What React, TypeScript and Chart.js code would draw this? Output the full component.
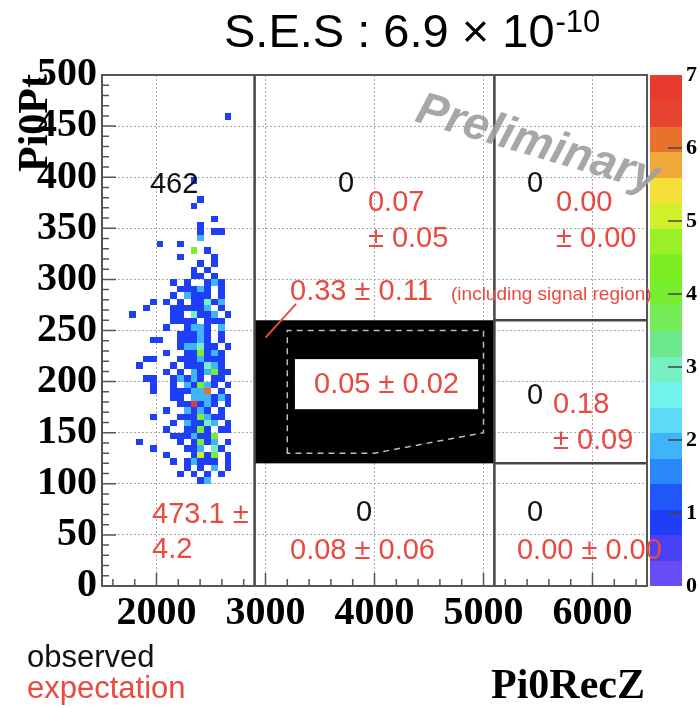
import React, { useEffect, useRef } from 'react';
import { Chart, registerables } from 'chart.js';

Chart.register(...registerables);

// ---------- axes ----------
const Z_MIN = 1500;
const Z_MAX = 6500;
const PT_MIN = 0;
const PT_MAX = 500;
const zTicks = [2000, 3000, 4000, 5000, 6000];
const ptTicks = [0, 50, 100, 150, 200, 250, 300, 350, 400, 450, 500];
const zMinorStep = 200;
const ptMinorStep = 10;

// ---------- histogram cells (observed events) ----------
const zBinWidth = 62.5;
const ptBinWidth = 6.25;
const firstColumnBin = 3; // first character of every row = Z bin 3
// [Pt bin index, counts per Z bin starting at firstColumnBin]
const cellRows: Array<[number, string]> = [
  [73, '...............1..'],
  [63, '..........1.......'],
  [60, '...........1......'],
  [59, '..........1.......'],
  [57, '.............1....'],
  [56, '...........1......'],
  [55, '...........1.11...'],
  [54, '...........2......'],
  [53, '.....1..1.........'],
  [52, '..........4.1.....'],
  [51, '........1....1....'],
  [50, '...........1.1....'],
  [49, '..........1.1.....'],
  [48, '..........11.1....'],
  [47, '.......1.1..121...'],
  [46, '........11121.1...'],
  [45, '.......1.2111.1...'],
  [44, '....1.1.1.11312...'],
  [43, '...1...111112.1...'],
  [42, '.1.....11.3112.1..'],
  [41, '.......1111.111...'],
  [40, '......1..1221.2...'],
  [39, '........11121.1...'],
  [38, '....11..11121.1...'],
  [37, '........122311.1..'],
  [36, '......1..114121...'],
  [35, '...11...1112111...'],
  [34, '..1....1.111321...'],
  [33, '......1.1.212411..'],
  [32, '...11..12121.11...'],
  [31, '....1..1.21421.1..'],
  [30, '....1..111226.1...'],
  [29, '.......11.222121..'],
  [28, '........117121.1..'],
  [27, '......1..2121.1...'],
  [26, '....1...1114211...'],
  [25, '.......1.21132.1..'],
  [24, '......1..1141.11..'],
  [23, '.......1112114....'],
  [22, '..1.....1.1412.1..'],
  [21, '....1....112.31...'],
  [20, '......1...1514.1..'],
  [19, '.......1.12111.1..'],
  [18, '.........1.1.2.1..'],
  [17, '........1.1.1.1...'],
  [16, '...........12.....'],
];

// ---------- regions ----------
const regionZCuts = [2900, 5100];
const regionPtCuts = [120, 260];
const signalZ = [3200, 3200, 5000, 5000, 4000];
const signalPt = [130, 250, 250, 150, 130];

// ---------- colour scale ----------
const colorMax = 7;
const colorLabels = [0, 1, 2, 3, 4, 5, 6, 7];
const palette = [
  '#6a4cf4', '#4a40f6', '#1e3ef8', '#1e58f8', '#2a88f8',
  '#40b4f8', '#5cdaf8', '#70f4ec', '#76f0c0', '#6ee88c',
  '#74ec58', '#78ee30', '#7cee22', '#9af026', '#d2f02a',
  '#f5e03a', '#f0a83a', '#e8722c', '#e64430', '#e63b2e',
];

// ---------- texts ----------
const RED = '#e84a40';
const BLACK = '#111111';
const annotations = [
  { text: '462', z: 1940, pt: 392, color: BLACK, size: 29 },
  { text: '0', z: 3665, pt: 393, color: BLACK, size: 29 },
  { text: '0.07', z: 3940, pt: 375, color: RED, size: 29 },
  { text: '± 0.05', z: 3940, pt: 340, color: RED, size: 29 },
  { text: '0', z: 5399, pt: 393, color: BLACK, size: 29 },
  { text: '0.00', z: 5665, pt: 375, color: RED, size: 29 },
  { text: '± 0.00', z: 5665, pt: 340, color: RED, size: 29 },
  { text: '0.33 ± 0.11', z: 3225, pt: 288, color: RED, size: 29 },
  { text: '(including signal region)', z: 4702, pt: 285, color: RED, size: 19 },
  { text: '0', z: 5399, pt: 186, color: BLACK, size: 29 },
  { text: '0.18', z: 5637, pt: 177, color: RED, size: 29 },
  { text: '± 0.09', z: 5637, pt: 142, color: RED, size: 29 },
  { text: '473.1 ±', z: 1959, pt: 69, color: RED, size: 29 },
  { text: '4.2', z: 1959, pt: 35, color: RED, size: 29 },
  { text: '0', z: 3830, pt: 71, color: BLACK, size: 29 },
  { text: '0.08 ± 0.06', z: 3225, pt: 34, color: RED, size: 29 },
  { text: '0', z: 5399, pt: 71, color: BLACK, size: 29 },
  { text: '0.00 ± 0.00', z: 5307, pt: 34, color: RED, size: 29 },
];
const signalLabel = { text: '0.05 ± 0.02', z: 4110, pt: 197 };
const signalLabelBoxZ = [3270, 4950];
const signalLabelBoxPt = [173, 222];
const leaderZ = [3000, 3280];
const leaderPt = [243, 276];
const watermark = { text: 'Preliminary', z: 4360, pt: 455, angleDeg: 16.5 };

type Cell = { x: number; y: number; v: number };
const cells: Cell[] = [];
cellRows.forEach(([iy, row]) => {
  row.split('').forEach((c, k) => {
    if (c !== '.') {
      cells.push({
        x: Z_MIN + (firstColumnBin + k + 0.5) * zBinWidth,
        y: PT_MIN + (iy + 0.5) * ptBinWidth,
        v: Number(c),
      });
    }
  });
});

const colorFor = (v: number) => {
  const band = Math.min(palette.length - 1, Math.floor(v / (colorMax / palette.length)));
  return palette[Math.max(0, band)];
};

const SANS = '"Liberation Sans", Arial, sans-serif';
const SERIF = '"Liberation Serif", "Times New Roman", serif';

const rootPlugin = {
  id: 'rootStyle',
  afterDraw(chart: any) {
    const { ctx, chartArea: ca } = chart;
    const xs = chart.scales.x;
    const ys = chart.scales.y;
    const X = (v: number) => xs.getPixelForValue(v);
    const Y = (v: number) => ys.getPixelForValue(v);
    ctx.save();

    // cells
    const data = chart.data.datasets[0].data as Cell[];
    for (const c of data) {
      const x0 = Math.round(X(c.x - zBinWidth / 2));
      const x1 = Math.round(X(c.x + zBinWidth / 2));
      const y0 = Math.round(Y(c.y + ptBinWidth / 2));
      const y1 = Math.round(Y(c.y - ptBinWidth / 2));
      ctx.fillStyle = colorFor(c.v);
      ctx.fillRect(x0, y0, x1 - x0, y1 - y0);
    }

    // black box
    ctx.fillStyle = '#000';
    ctx.fillRect(X(regionZCuts[0]), Y(regionPtCuts[1]), X(regionZCuts[1]) - X(regionZCuts[0]), Y(regionPtCuts[0]) - Y(regionPtCuts[1]));

    // signal region dashed
    ctx.strokeStyle = '#bdbdbd';
    ctx.lineWidth = 1.5;
    ctx.setLineDash([6, 5]);
    ctx.beginPath();
    signalZ.forEach((z, i) => {
      if (i === 0) ctx.moveTo(X(z), Y(signalPt[i]));
      else ctx.lineTo(X(z), Y(signalPt[i]));
    });
    ctx.closePath();
    ctx.stroke();
    ctx.setLineDash([]);

    // white label box
    ctx.fillStyle = '#fff';
    ctx.fillRect(X(signalLabelBoxZ[0]), Y(signalLabelBoxPt[1]), X(signalLabelBoxZ[1]) - X(signalLabelBoxZ[0]), Y(signalLabelBoxPt[0]) - Y(signalLabelBoxPt[1]));

    // region lines
    ctx.strokeStyle = '#444';
    ctx.lineWidth = 2.5;
    ctx.beginPath();
    regionZCuts.forEach((z) => {
      ctx.moveTo(X(z), ca.top);
      ctx.lineTo(X(z), ca.bottom);
    });
    regionPtCuts.forEach((p) => {
      ctx.moveTo(X(regionZCuts[1]), Y(p));
      ctx.lineTo(ca.right, Y(p));
    });
    ctx.stroke();

    // frame
    ctx.strokeStyle = '#555';
    ctx.lineWidth = 2;
    ctx.strokeRect(ca.left, ca.top, ca.right - ca.left, ca.bottom - ca.top);

    // inward ticks
    ctx.strokeStyle = '#555';
    ctx.lineWidth = 1.5;
    ctx.beginPath();
    for (let z = Math.ceil(Z_MIN / zMinorStep) * zMinorStep; z <= Z_MAX; z += zMinorStep) {
      const major = zTicks.includes(z);
      const px = X(z);
      ctx.moveTo(px, ca.bottom);
      ctx.lineTo(px, ca.bottom - (major ? 13 : 7));
    }
    for (let p = PT_MIN; p <= PT_MAX; p += ptMinorStep) {
      const major = p % 50 === 0;
      const py = Y(p);
      ctx.moveTo(ca.left, py);
      ctx.lineTo(ca.left + (major ? 14 : 7), py);
    }
    ctx.stroke();

    // colour bar
    const cbL = ca.right + 3;
    const cbW = 32;
    const cbY = (v: number) => ca.bottom - (v / colorMax) * (ca.bottom - ca.top);
    palette.forEach((col, i) => {
      const ya = cbY(((i + 1) * colorMax) / palette.length);
      const yb = cbY((i * colorMax) / palette.length);
      ctx.fillStyle = col;
      ctx.fillRect(cbL, Math.floor(ya), cbW, Math.ceil(yb) - Math.floor(ya));
    });
    ctx.strokeStyle = '#444';
    ctx.lineWidth = 1.5;
    ctx.beginPath();
    colorLabels.forEach((v) => {
      if (v > 0 && v < colorMax) {
        ctx.moveTo(cbL + cbW - 14, cbY(v));
        ctx.lineTo(cbL + cbW, cbY(v));
      }
    });
    ctx.stroke();
    ctx.fillStyle = '#000';
    ctx.font = `bold 22px ${SERIF}`;
    ctx.textAlign = 'left';
    ctx.textBaseline = 'middle';
    colorLabels.forEach((v) => ctx.fillText(String(v), cbL + cbW + 4, cbY(v)));

    // red leader line
    ctx.strokeStyle = RED;
    ctx.lineWidth = 2;
    ctx.beginPath();
    ctx.moveTo(X(leaderZ[0]), Y(leaderPt[0]));
    ctx.lineTo(X(leaderZ[1]), Y(leaderPt[1]));
    ctx.stroke();

    // annotations
    ctx.textBaseline = 'middle';
    ctx.textAlign = 'left';
    annotations.forEach((a) => {
      ctx.font = `${a.size}px ${SANS}`;
      ctx.fillStyle = a.color;
      ctx.fillText(a.text, X(a.z), Y(a.pt));
    });
    ctx.font = `29px ${SANS}`;
    ctx.fillStyle = RED;
    ctx.textAlign = 'center';
    ctx.fillText(signalLabel.text, X(signalLabel.z), Y(signalLabel.pt));

    // watermark
    ctx.save();
    ctx.translate(X(watermark.z), Y(watermark.pt));
    ctx.rotate((watermark.angleDeg * Math.PI) / 180);
    ctx.font = `italic bold 46px ${SANS}`;
    ctx.fillStyle = 'rgba(160,160,160,0.92)';
    ctx.textAlign = 'left';
    ctx.textBaseline = 'alphabetic';
    ctx.fillText(watermark.text, 0, 0);
    ctx.restore();

    // title
    ctx.fillStyle = '#000';
    ctx.textAlign = 'left';
    ctx.textBaseline = 'alphabetic';
    ctx.font = `47px ${SANS}`;
    const main = 'S.E.S : 6.9 \u00d7 10';
    ctx.fillText(main, 224, 47);
    const w = ctx.measureText(main).width;
    ctx.font = `31px ${SANS}`;
    ctx.fillText('-10', 224 + w + 1, 32);

    // axis titles
    ctx.font = `bold 42px ${SERIF}`;
    ctx.save();
    ctx.translate(47, 172);
    ctx.rotate(-Math.PI / 2);
    ctx.fillText('Pi0Pt', 0, 0);
    ctx.restore();
    ctx.textAlign = 'right';
    ctx.fillText('Pi0RecZ', 645, 698);

    // legend texts
    ctx.textAlign = 'left';
    ctx.font = `31px ${SANS}`;
    ctx.fillStyle = BLACK;
    ctx.fillText('observed', 27, 667);
    ctx.fillStyle = RED;
    ctx.fillText('expectation', 27, 698);

    ctx.restore();
  },
};

export default function App() {
  const ref = useRef<HTMLCanvasElement>(null);
  useEffect(() => {
    const tickFont = { family: SERIF, weight: 'bold' as const, size: 40 };
    const chart = new Chart(ref.current as HTMLCanvasElement, {
      type: 'scatter',
      data: { datasets: [{ data: cells as any, pointRadius: 0, pointHoverRadius: 0 }] },
      options: {
        responsive: false,
        animation: false,
        events: [],
        layout: { padding: { top: 75, right: 53, left: 0, bottom: 0 } },
        plugins: { legend: { display: false }, tooltip: { enabled: false }, title: { display: false } },
        scales: {
          x: {
            type: 'linear',
            min: Z_MIN,
            max: Z_MAX,
            afterBuildTicks: (s: any) => {
              s.ticks = zTicks.map((value) => ({ value }));
            },
            afterFit: (s: any) => {
              s.height = 122;
            },
            ticks: { autoSkip: false, maxRotation: 0, minRotation: 0, font: tickFont, color: '#000', padding: 4, callback: (v: any) => String(v) },
            grid: { color: '#a8a8a8', lineWidth: 1, drawTicks: false },
            border: { display: false, dash: [2, 2] },
          },
          y: {
            type: 'linear',
            min: PT_MIN,
            max: PT_MAX,
            afterBuildTicks: (s: any) => {
              s.ticks = ptTicks.map((value) => ({ value }));
            },
            afterFit: (s: any) => {
              s.width = 102;
            },
            ticks: { autoSkip: false, font: tickFont, color: '#000', padding: 5, callback: (v: any) => String(v) },
            grid: { color: '#a8a8a8', lineWidth: 1, drawTicks: false },
            border: { display: false, dash: [2, 2] },
          },
        },
      },
      plugins: [rootPlugin],
    });
    return () => chart.destroy();
  }, []);
  return (
    <div style={{ position: 'absolute', left: 0, top: 0, width: 700, height: 708, background: '#fff' }}>
      <canvas ref={ref} width={700} height={708} />
    </div>
  );
}
